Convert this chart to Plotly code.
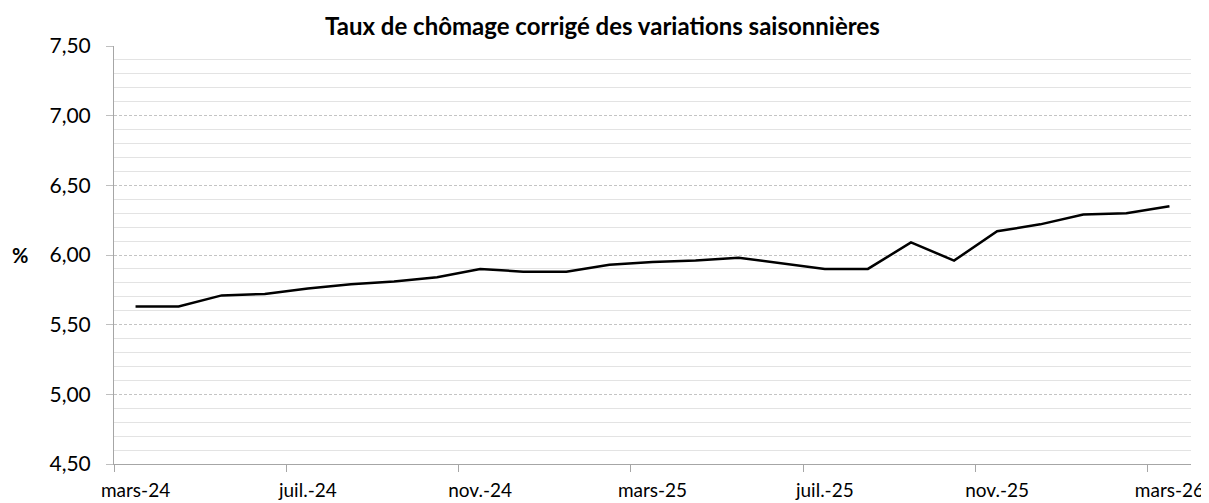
import plotly.graph_objects as go

months = ["mars-24", "avr.-24", "mai-24", "juin-24", "juil.-24", "août-24", "sept.-24",
          "oct.-24", "nov.-24", "déc.-24", "janv.-25", "févr.-25", "mars-25", "avr.-25",
          "mai-25", "juin-25", "juil.-25", "août-25", "sept.-25", "oct.-25", "nov.-25",
          "déc.-25", "janv.-26", "févr.-26", "mars-26"]
taux = [5.63, 5.63, 5.71, 5.72, 5.76, 5.79, 5.81, 5.84, 5.90, 5.88, 5.88, 5.93, 5.95,
        5.96, 5.98, 5.94, 5.90, 5.90, 6.09, 5.96, 6.17, 6.22, 6.29, 6.30, 6.35]
label_months = months[::4]
title = "Taux de chômage corrigé des variations saisonnières"
y_title = "%"

FONT = "Lato"
n = len(months)
# the page body has an 8px margin: the figure is sized so that it fills the window
PAGE_OFF = 8

fig = go.Figure()
fig.add_trace(go.Scatter(x=months, y=taux, mode="lines",
                         line=dict(color="#000000", width=2.5),
                         showlegend=False, hoverinfo="x+y"))
fig.add_trace(go.Scatter(x=[None], y=[None], xaxis="x2", showlegend=False, hoverinfo="skip"))

fig.update_layout(
    width=1209 - PAGE_OFF, height=503 - PAGE_OFF,
    margin=dict(l=114 - PAGE_OFF, r=18, t=46 - PAGE_OFF, b=39, autoexpand=False),
    paper_bgcolor="white", plot_bgcolor="white",
    separators=", ",
    font=dict(family=FONT, size=19, color="#000000"),
    xaxis=dict(type="category", range=[-0.5, n - 0.5], automargin=False,
               tickmode="array", tickvals=label_months, ticktext=label_months,
               ticks="", showgrid=False, zeroline=False,
               showline=True, linecolor="#a6a6a6", linewidth=1,
               tickfont=dict(family=FONT, size=19, color="#000000"),
               ticklabelstandoff=9),
    xaxis2=dict(overlaying="x", range=[-0.5, n - 0.5], side="bottom", automargin=False,
                tickmode="array", tickvals=[i - 0.5 for i in range(0, n, 4)],
                ticktext=["" for _ in range(0, n, 4)],
                ticks="outside", ticklen=7, tickcolor="#a6a6a6", tickwidth=1,
                showgrid=False, zeroline=False, showline=False),
    yaxis=dict(range=[4.5, 7.5], tickmode="linear", tick0=4.5, dtick=0.5, automargin=False,
               tickformat=".2f", ticks="outside", ticklen=7, tickcolor="#bfbfbf",
               showgrid=True, gridcolor="#c4c4c4", gridwidth=1, griddash="3px,2px",
               minor=dict(dtick=0.1, showgrid=True, gridcolor="#e3e3e3", gridwidth=1,
                          griddash="solid"),
               zeroline=False, showline=True, linecolor="#a6a6a6", linewidth=1,
               tickfont=dict(family=FONT, size=21, color="#000000"),
               ticklabelstandoff=11),
    annotations=[
        dict(text="<b>" + title + "</b>", xref="paper", yref="paper",
             x=(602 - 114) / (1191 - 114), y=1.0, yshift=21, xanchor="center",
             yanchor="middle", showarrow=False,
             font=dict(family=FONT, size=24, color="#000000")),
        dict(text="<b>" + y_title + "</b>", xref="paper", yref="paper",
             x=(20 - 114) / (1191 - 114), y=0.5, xanchor="center", yanchor="middle",
             showarrow=False,
             font=dict(family=FONT, size=20, color="#000000")),
    ],
)

fig.write_html("out.html")
